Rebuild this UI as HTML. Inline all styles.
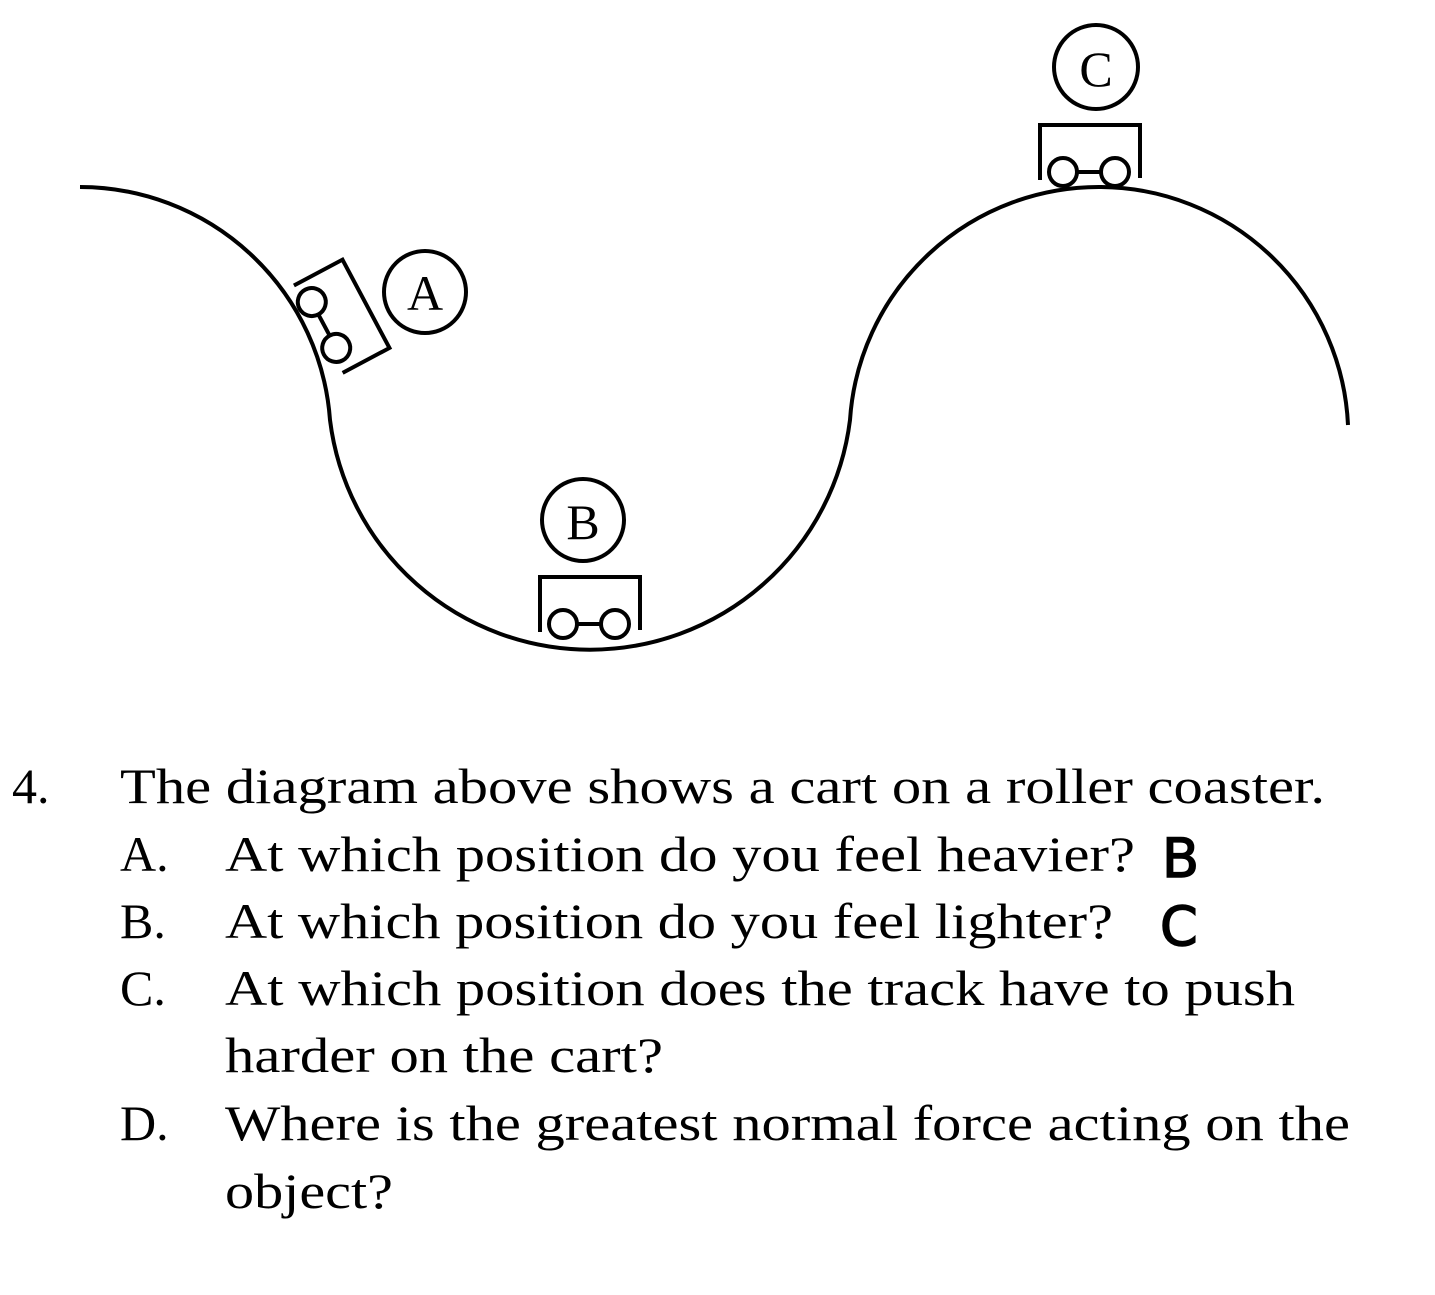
<!DOCTYPE html>
<html><head><meta charset="utf-8"><style>html,body{margin:0;padding:0;background:#fff}svg{display:block}</style></head>
<body>
<svg width="1435" height="1295" viewBox="0 0 1435 1295" xmlns="http://www.w3.org/2000/svg">
<g fill="none" stroke="#000" stroke-width="4">
<path d="M80 187 A251 251 0 0 1 330 420 A262 262 0 0 0 850 420 A249.4 249.4 0 0 1 1348 425"/>
<circle cx="425" cy="292" r="41"/>
<circle cx="583" cy="520" r="41"/>
<circle cx="1096" cy="67" r="42"/>
<g transform="translate(1089,172)">
<path d="M-49 8 V-47 H51 V6"/>
<line x1="-13" y1="0" x2="13" y2="0"/>
<circle cx="-26" cy="0" r="14" fill="#fff"/>
<circle cx="26" cy="0" r="14" fill="#fff"/>
</g>
<g transform="translate(589,624)">
<path d="M-49 8 V-47 H51 V6"/>
<line x1="-13" y1="0" x2="13" y2="0"/>
<circle cx="-26" cy="0" r="14" fill="#fff"/>
<circle cx="26" cy="0" r="14" fill="#fff"/>
</g>
<g transform="translate(324,325) rotate(62)">
<path d="M-49 8 V-47 H51 V6"/>
<line x1="-13" y1="0" x2="13" y2="0"/>
<circle cx="-26" cy="0" r="14" fill="#fff"/>
<circle cx="26" cy="0" r="14" fill="#fff"/>
</g>
</g>
<g font-family="Liberation Serif, serif" font-size="50" fill="#000">
<text x="425" y="310" text-anchor="middle">A</text>
<text x="583" y="539" text-anchor="middle">B</text>
<text x="1096" y="86" text-anchor="middle">C</text>
</g>
<g font-family="Liberation Serif, serif" font-size="50" fill="#000">
<text x="12" y="803">4.</text>
<text x="120" y="803" textLength="1205" lengthAdjust="spacingAndGlyphs">The diagram above shows a cart on a roller coaster.</text>
<text x="120" y="871">A.</text>
<text x="225" y="871" textLength="910" lengthAdjust="spacingAndGlyphs">At which position do you feel heavier?</text>
<text x="120" y="938">B.</text>
<text x="225" y="938" textLength="888" lengthAdjust="spacingAndGlyphs">At which position do you feel lighter?</text>
<text x="120" y="1005">C.</text>
<text x="225" y="1005" textLength="1070" lengthAdjust="spacingAndGlyphs">At which position does the track have to push</text>
<text x="225" y="1072" textLength="438" lengthAdjust="spacingAndGlyphs">harder on the cart?</text>
<text x="120" y="1140">D.</text>
<text x="225" y="1140" textLength="1125" lengthAdjust="spacingAndGlyphs">Where is the greatest normal force acting on the</text>
<text x="225" y="1208" textLength="168" lengthAdjust="spacingAndGlyphs">object?</text>
</g>
<g font-family="DejaVu Sans, sans-serif" font-size="54" fill="#000" stroke="#000" stroke-width="1.5">
<text x="1162" y="877">B</text>
<text x="1160" y="945">C</text>
</g>
</svg>
</body></html>
